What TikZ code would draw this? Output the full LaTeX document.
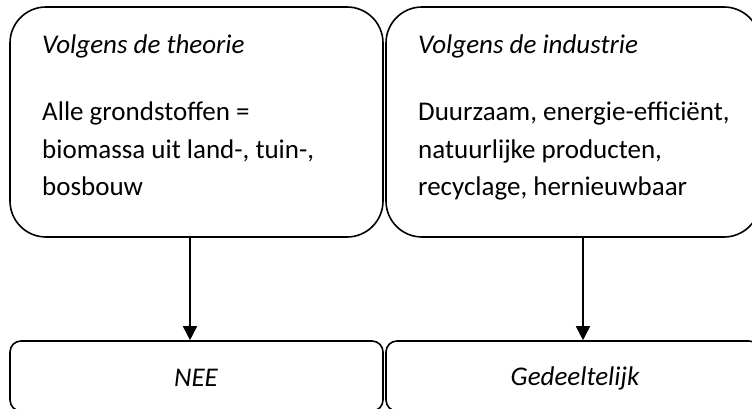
\documentclass[tikz,border=0pt]{standalone}
\usepackage{fontspec}
\setmainfont{Carlito}
\usetikzlibrary{arrows.meta}
\tikzset{
  bigbox/.style={draw, line width=1.6pt, rounded corners=36pt, inner sep=0pt},
  smallbox/.style={draw, line width=1.6pt, rounded corners=11pt, inner sep=0pt},
  label/.style={anchor=base west, inner sep=0pt, font=\fontsize{27}{37}\selectfont},
  result/.style={inner sep=0pt, font=\fontsize{27}{37}\selectfont\itshape},
  flow/.style={line width=1.6pt, -{Triangle[length=14pt,width=14pt]}}
}
\begin{document}
\begin{tikzpicture}[x=1pt,y=-1pt]
\useasboundingbox (0,0) rectangle (752,409);
\clip (0,0) rectangle (752,409);
% upper boxes
\node[bigbox, minimum width=373pt, minimum height=230pt] (lt) at (196.5,122) {};
\node[bigbox, minimum width=374pt, minimum height=230pt] (rt) at (573,122) {};
% lower boxes
\node[smallbox, minimum width=373pt, minimum height=70pt] (lb) at (196.5,376) {};
\node[smallbox, minimum width=374pt, minimum height=70pt] (rb) at (573,376) {};
% left box texts
\node[label] (lth) at (42,54) {\itshape Volgens de theorie};
\node[label] (l1) at (42,121) {Alle grondstoffen =};
\node[label] (l2) at (42,158) {biomassa uit land-, tuin-,};
\node[label] (l3) at (42,195) {bosbouw};
% right box texts
\node[label] (rth) at (418,54) {\itshape Volgens de industrie};
\node[label] (r1) at (418,121) {Duurzaam, energie-efficiënt,};
\node[label] (r2) at (418,158) {natuurlijke producten,};
\node[label] (r3) at (418,195) {recyclage, hernieuwbaar};
% results
\node[result] (nee) at (196,378) {NEE};
\node[result] (ged) at (575,378) {Gedeeltelijk};
% arrows
\draw[flow] ([xshift=-6.5pt]lt.south) -- ([xshift=-6.5pt]lb.north);
\draw[flow] ([xshift=10pt]rt.south) -- ([xshift=10pt]rb.north);
\end{tikzpicture}
\end{document}
